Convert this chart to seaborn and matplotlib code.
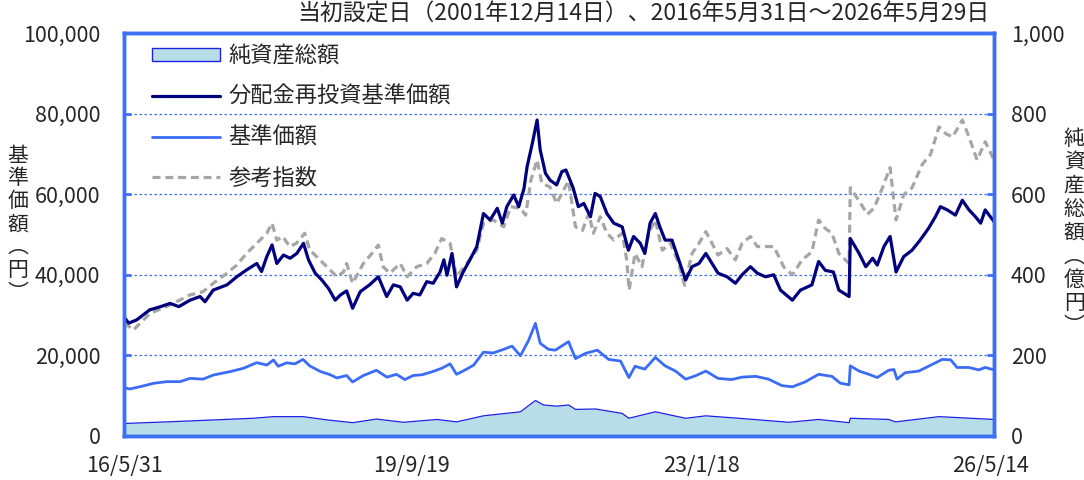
import numpy as np
import pandas as pd
import matplotlib
matplotlib.use('Agg')
import matplotlib.pyplot as plt
from matplotlib.patches import Patch
from matplotlib.lines import Line2D
import seaborn as sns

# 分配金再投資基準価額 (円)
reinv_dates = ['2016-05-31', '2016-06-20', '2016-07-23', '2016-09-16', '2016-11-01', '2016-12-10',
               '2017-01-16', '2017-03-04', '2017-04-15', '2017-05-06', '2017-06-09', '2017-08-06',
               '2017-09-16', '2017-10-27', '2017-12-09', '2017-12-29', '2018-01-20', '2018-02-11',
               '2018-03-03', '2018-03-31', '2018-04-28', '2018-05-26', '2018-06-23', '2018-07-14',
               '2018-08-11', '2018-09-08', '2018-10-06', '2018-11-03', '2018-11-25', '2018-12-21',
               '2019-01-15', '2019-02-16', '2019-03-27', '2019-05-03', '2019-06-07', '2019-07-05',
               '2019-08-03', '2019-09-01', '2019-09-26', '2019-10-24', '2019-11-22', '2019-12-19',
               '2020-01-17', '2020-02-02', '2020-02-15', '2020-03-07', '2020-03-26', '2020-04-23',
               '2020-05-21', '2020-06-19', '2020-07-17', '2020-08-14', '2020-09-13', '2020-10-04',
               '2020-10-23', '2020-11-21', '2020-12-12', '2021-01-03', '2021-01-16', '2021-02-07',
               '2021-02-27', '2021-03-12', '2021-04-03', '2021-04-22', '2021-05-20', '2021-06-11',
               '2021-06-28', '2021-07-28', '2021-08-19', '2021-09-11', '2021-10-09', '2021-10-28',
               '2021-11-19', '2021-12-17', '2022-01-15', '2022-02-19', '2022-03-17', '2022-04-08',
               '2022-05-06', '2022-05-25', '2022-06-16', '2022-07-08', '2022-07-27', '2022-08-18',
               '2022-09-16', '2022-10-14', '2022-11-12', '2022-12-09', '2023-01-07', '2023-02-05',
               '2023-03-03', '2023-03-28', '2023-05-05', '2023-06-09', '2023-07-07', '2023-08-11',
               '2023-09-09', '2023-10-13', '2023-11-17', '2023-12-15', '2024-02-03', '2024-03-08',
               '2024-04-25', '2024-05-23', '2024-06-20', '2024-07-24', '2024-08-16', '2024-09-28',
               '2024-10-03', '2024-11-09', '2024-12-07', '2025-01-05', '2025-01-24', '2025-02-21',
               '2025-03-19', '2025-04-13', '2025-05-15', '2025-06-19', '2025-07-23', '2025-08-27',
               '2025-09-25', '2025-10-16', '2025-11-14', '2025-12-18', '2026-01-16', '2026-02-13',
               '2026-03-12', '2026-04-03', '2026-04-22', '2026-05-29']
reinv_values = [29500, 28000, 28800, 31300, 32100, 32900,
                32100, 33700, 34600, 33300, 36200, 37500,
                39500, 41200, 42800, 40800, 44500, 47400,
                42800, 44900, 44100, 45300, 47800, 43700,
                40400, 38700, 36600, 33700, 35000, 36000,
                31700, 35800, 37500, 39500, 34600, 37500,
                37000, 33700, 35400, 35000, 38300, 37900,
                40700, 43700, 39900, 45300, 37000, 40700,
                43700, 47000, 55200, 53600, 56500, 52800,
                56900, 59800, 56900, 61400, 66800, 72600,
                78400, 71000, 65200, 63500, 62300, 65600,
                66000, 61600, 56900, 57700, 54400, 60200,
                59400, 55200, 52800, 51900, 46100, 49500,
                47800, 45300, 52800, 55200, 51900, 48600,
                48600, 43700, 38700, 42000, 42800, 45300,
                42800, 40400, 39500, 37900, 40000, 42000,
                40400, 39500, 40000, 36200, 33700, 36200,
                37500, 43300, 41100, 40700, 36200, 34600,
                49000, 45300, 42000, 44100, 42400, 47000,
                49500, 40700, 44500, 46100, 48600, 51500,
                54400, 56900, 56100, 54800, 58500, 56100,
                54400, 52800, 56100, 53200]

# 基準価額 (円)
nav_dates = ['2016-05-31', '2016-06-24', '2016-08-07', '2016-10-02', '2016-11-26', '2017-01-21',
             '2017-03-04', '2017-04-27', '2017-06-10', '2017-08-18', '2017-10-14', '2017-12-09',
             '2018-01-20', '2018-02-17', '2018-03-09', '2018-04-13', '2018-05-18', '2018-06-21',
             '2018-07-19', '2018-09-02', '2018-10-13', '2018-11-10', '2018-12-21', '2019-01-15',
             '2019-03-01', '2019-04-25', '2019-06-08', '2019-07-18', '2019-08-22', '2019-09-26',
             '2019-11-03', '2019-12-13', '2020-01-24', '2020-02-28', '2020-03-26', '2020-05-08',
             '2020-06-06', '2020-07-17', '2020-08-27', '2020-10-10', '2020-11-14', '2020-12-19',
             '2021-01-23', '2021-02-20', '2021-03-12', '2021-04-16', '2021-05-14', '2021-07-09',
             '2021-08-07', '2021-09-18', '2021-11-07', '2021-12-24', '2022-02-12', '2022-03-19',
             '2022-04-14', '2022-05-25', '2022-07-08', '2022-08-18', '2022-10-01', '2022-11-12',
             '2022-12-22', '2023-02-05', '2023-03-28', '2023-05-24', '2023-07-07', '2023-09-02',
             '2023-10-26', '2023-12-21', '2024-02-03', '2024-03-27', '2024-05-23', '2024-07-18',
             '2024-08-22', '2024-09-28', '2024-10-03', '2024-11-09', '2024-12-20', '2025-01-24',
             '2025-03-13', '2025-04-04', '2025-04-17', '2025-05-21', '2025-07-17', '2025-09-13',
             '2025-10-24', '2025-11-28', '2025-12-25', '2026-02-13', '2026-03-26', '2026-04-22',
             '2026-05-29']
nav_values = [12000, 11660, 12240, 13070, 13480, 13480,
              14300, 14100, 15130, 15950, 16800, 18200,
              17600, 18860, 17300, 18150, 17900, 19000,
              17400, 16000, 15200, 14400, 15000, 13400,
              15000, 16300, 14600, 15300, 14000, 15000,
              15200, 15900, 16800, 17900, 15300, 16600,
              17600, 20800, 20600, 21500, 22300, 19900,
              23800, 27950, 23000, 21500, 21300, 23400,
              19200, 20500, 21300, 19000, 18600, 14500,
              17300, 16600, 19500, 17400, 16100, 14100,
              14900, 16100, 14300, 14000, 14600, 14800,
              14100, 12500, 12200, 13400, 15300, 14800,
              13100, 12700, 17400, 16100, 15300, 14500,
              16300, 16500, 14100, 15700, 16100, 17800,
              19000, 18900, 17000, 17000, 16400, 17000,
              16400]

# 参考指数
index_dates = ['2016-05-31', '2016-06-14', '2016-07-09', '2016-09-17', '2016-12-10', '2017-03-04',
               '2017-04-27', '2017-06-10', '2017-08-06', '2017-09-16', '2017-10-27', '2017-12-09',
               '2018-01-20', '2018-02-11', '2018-03-03', '2018-03-28', '2018-04-26', '2018-05-24',
               '2018-06-28', '2018-07-19', '2018-08-17', '2018-09-15', '2018-10-13', '2018-11-10',
               '2018-12-08', '2018-12-21', '2019-01-15', '2019-03-01', '2019-04-06', '2019-05-03',
               '2019-05-23', '2019-06-20', '2019-08-03', '2019-09-01', '2019-10-11', '2019-11-22',
               '2019-12-26', '2020-01-24', '2020-02-28', '2020-03-26', '2020-05-08', '2020-06-19',
               '2020-07-17', '2020-08-27', '2020-10-10', '2020-11-08', '2020-12-19', '2021-01-10',
               '2021-02-01', '2021-02-27', '2021-03-19', '2021-04-22', '2021-05-20', '2021-06-18',
               '2021-07-09', '2021-08-07', '2021-09-05', '2021-10-02', '2021-10-21', '2021-11-19',
               '2021-12-17', '2022-01-15', '2022-02-19', '2022-03-10', '2022-03-20', '2022-04-14',
               '2022-05-13', '2022-06-10', '2022-07-08', '2022-08-06', '2022-09-10', '2022-10-14',
               '2022-11-08', '2022-12-09', '2023-01-07', '2023-02-05', '2023-03-03', '2023-03-28',
               '2023-05-05', '2023-06-09', '2023-07-07', '2023-08-11', '2023-09-09', '2023-10-13',
               '2023-11-17', '2023-12-15', '2023-12-28', '2024-02-03', '2024-03-15', '2024-04-25',
               '2024-05-23', '2024-06-20', '2024-07-18', '2024-08-16', '2024-09-28', '2024-10-03',
               '2024-11-09', '2024-12-14', '2025-01-11', '2025-02-15', '2025-03-19', '2025-04-13',
               '2025-05-15', '2025-06-19', '2025-08-01', '2025-09-05', '2025-10-10', '2025-11-08',
               '2025-12-06', '2026-01-16', '2026-02-13', '2026-03-19', '2026-04-22', '2026-05-29']
index_values = [28000, 27500, 26300, 30400, 32500, 35000,
                35800, 37900, 40400, 42400, 45300, 47800,
                50300, 52800, 48600, 49500, 47000, 47800,
                50300, 46200, 44500, 42800, 41200, 39500,
                40700, 42800, 37900, 42800, 45300, 47400,
                42000, 40400, 42800, 39500, 42000, 42800,
                45300, 49000, 47800, 39500, 42800, 46100,
                52800, 53600, 51900, 56900, 56500, 54800,
                63500, 68500, 62700, 61800, 57700, 61000,
                63300, 51900, 51000, 55200, 50300, 54400,
                50300, 48600, 50300, 43700, 36200, 45300,
                42000, 50300, 53600, 46100, 47800, 42800,
                37400, 45300, 47800, 50700, 47800, 44900,
                46500, 43700, 47800, 49500, 47000, 47000,
                47000, 43700, 42000, 40000, 43700, 45700,
                53600, 51500, 50300, 45300, 42800, 61600,
                58300, 55000, 56600, 61600, 66600, 53600,
                59900, 61600, 67400, 69900, 76700, 75000,
                74200, 78400, 74200, 68500, 73000, 68500]

# 純資産総額 (億円)
assets_dates = ['2016-05-31', '2016-06-24', '2017-02-19', '2017-11-25', '2018-02-17', '2018-06-21',
                '2018-09-29', '2019-01-15', '2019-04-25', '2019-08-16', '2020-01-05', '2020-03-26',
                '2020-07-17', '2020-12-19', '2021-02-20', '2021-03-26', '2021-05-20', '2021-07-09',
                '2021-08-07', '2021-10-31', '2022-02-19', '2022-03-19', '2022-07-08', '2022-11-12',
                '2023-02-05', '2023-06-22', '2024-01-19', '2024-05-23', '2024-09-28', '2024-10-03',
                '2025-03-13', '2025-04-11', '2025-10-10', '2026-05-29']
assets_values = [31, 31.5, 37, 44, 48, 48,
                 40, 33, 42, 34, 41, 35,
                 50, 60, 88, 77, 74, 77,
                 66, 67, 56, 44, 60, 44,
                 50, 44, 34, 41, 33, 44,
                 41, 35, 48, 41]

left_ticks = [0, 20000, 40000, 60000, 80000, 100000]
right_ticks = [0, 200, 400, 600, 800, 1000]
x_tick_dates = ['2016-05-31', '2019-09-19', '2023-01-18', '2026-05-14']
x_tick_labels = ['16/5/31', '19/9/19', '23/1/18', '26/5/14']

title = '当初設定日（2001年12月14日）、2016年5月31日～2026年5月29日'
labels = ['純資産総額', '分配金再投資基準価額', '基準価額', '参考指数']

sns.set_style('white')
plt.rcParams['font.family'] = ['Noto Sans CJK JP', 'DejaVu Sans']

frame_c = '#3f6ff5'
navy_c = '#00007f'
blue_c = '#3b6cf7'
gray_c = '#a6a6a6'
fill_c = '#b7dde8'
edge_c = '#1f1fe6'

reinv_df = pd.DataFrame({'date': pd.to_datetime(reinv_dates), 'value': reinv_values})
nav_df = pd.DataFrame({'date': pd.to_datetime(nav_dates), 'value': nav_values})
index_df = pd.DataFrame({'date': pd.to_datetime(index_dates), 'value': index_values})
assets_df = pd.DataFrame({'date': pd.to_datetime(assets_dates), 'value': assets_values})

fig = plt.figure(figsize=(10.84, 4.8), dpi=100)
ax = fig.add_axes([0.1144, 0.0917, 0.8026, 0.8396])
ax2 = ax.twinx()
# keep the price lines, grid and ticks above the net-asset area
ax.set_zorder(ax2.get_zorder() + 1)
ax.patch.set_visible(False)

sns.lineplot(data=index_df, x='date', y='value', ax=ax, color=gray_c, lw=2.3,
             linestyle=(0, (2.5, 1.5)))
sns.lineplot(data=nav_df, x='date', y='value', ax=ax, color=blue_c, lw=2.0)
sns.lineplot(data=reinv_df, x='date', y='value', ax=ax, color=navy_c, lw=2.3)

ax2.fill_between(assets_df['date'], assets_df['value'], color=fill_c, lw=0)
sns.lineplot(data=assets_df, x='date', y='value', ax=ax2, color=edge_c, lw=0.9)

ax.set_xlim(pd.Timestamp('2016-05-31'), pd.Timestamp('2026-05-29'))
ax.set_ylim(0, 100000)
ax2.set_ylim(0, 1000)

ax.set_yticks(left_ticks)
ax.set_yticklabels([f'{v:,}' for v in left_ticks])
ax2.set_yticks(right_ticks)
ax2.set_yticklabels([f'{v:,}' for v in right_ticks])
ax.set_xticks(pd.to_datetime(x_tick_dates))
ax.set_xticklabels(x_tick_labels)

ax.set_xlabel('')
ax.set_ylabel('')
ax2.set_xlabel('')
ax2.set_ylabel('')

ax.yaxis.grid(True, color=frame_c, linestyle=(0, (2, 2)), lw=0.9)
ax.xaxis.grid(False)

ax.tick_params(axis='y', direction='in', length=5, width=2, color=frame_c, labelsize=15.5, pad=17)
ax.tick_params(axis='x', direction='in', length=6, width=2, color=frame_c, labelsize=15.5, pad=14)
ax2.tick_params(axis='y', direction='in', length=5, width=2, color=frame_c, labelsize=15.5, pad=12)

for a in (ax, ax2):
    for s in a.spines.values():
        s.set_color(frame_c)
        s.set_linewidth(2.5)

handles = [Patch(facecolor=fill_c, edgecolor=edge_c, lw=1),
           Line2D([], [], color=navy_c, lw=2.3),
           Line2D([], [], color=blue_c, lw=2.0),
           Line2D([], [], color=gray_c, lw=2.3, linestyle=(0, (2.5, 1.5)))]
ax.legend(handles, labels, loc='upper left', bbox_to_anchor=(0.032, 0.972), frameon=False,
          fontsize=16, handlelength=3.05, handleheight=0.55, handletextpad=0.4,
          labelspacing=0.8, borderaxespad=0, borderpad=0)

fig.text(0.913, 0.971, title, ha='right', va='center', fontsize=16.5)
fig.text(0.0166, 0.533, '基\n準\n価\n額\n︵\n円\n︶', ha='center', va='center',
         fontsize=15, linespacing=1.05)
fig.text(0.991, 0.515, '純\n資\n産\n総\n額\n︵\n億\n円\n︶', ha='center', va='center',
         fontsize=15, linespacing=1.08)

fig.savefig('out.png', dpi=100)
